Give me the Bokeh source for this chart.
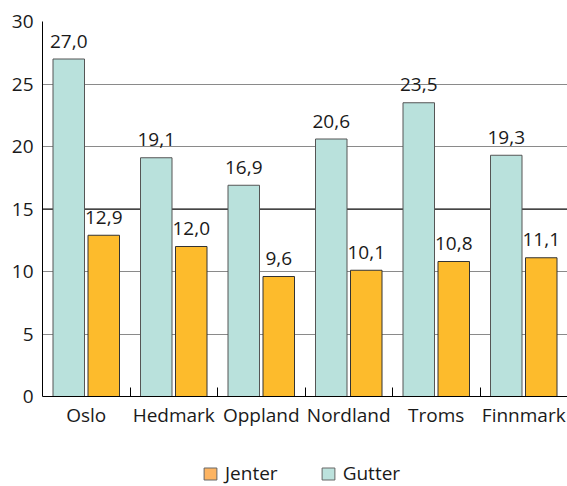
from bokeh.plotting import figure
from bokeh.models import ColumnDataSource, Range1d, FixedTicker, Legend, LegendItem, Span
from bokeh.layouts import column
from bokeh.embed import file_html
from bokeh.resources import INLINE
from bokeh.core.properties import value

# ---- data ----
regions = ["Oslo", "Hedmark", "Oppland", "Nordland", "Troms", "Finnmark"]
gutter = [27.0, 19.1, 16.9, 20.6, 23.5, 19.3]
jenter = [12.9, 12.0, 9.6, 10.1, 10.8, 11.1]
series = ["Jenter", "Gutter"]
y_ticks = [0, 5, 10, 15, 20, 25, 30]

FONT = "Open Sans"
FS = "19px"
TXT = "#1a1a1a"

idx = list(range(len(regions)))
def fmt(v):
    return f"{v:.1f}".replace(".", ",")

src = ColumnDataSource(dict(
    xg=[i + 0.30 for i in idx],
    xj=[i + 0.70 for i in idx],
    gutter=gutter,
    jenter=jenter,
    lg=[fmt(v) for v in gutter],
    lj=[fmt(v) for v in jenter],
))

p = figure(width=567, height=440, output_backend="svg", toolbar_location=None,
           x_range=Range1d(0, len(regions)), y_range=Range1d(0, 30),
           min_border_left=42, min_border_right=0, min_border_top=21, min_border_bottom=44)
p.outline_line_color = None
p.background_fill_color = "white"
p.border_fill_color = "white"

p.xgrid.visible = False
p.ygrid.grid_line_color = "#8a8a8a"
p.ygrid.grid_line_width = 1
p.add_layout(Span(location=y_ticks[3], dimension="width", line_color="black", line_width=1,
                  level="underlay"))

GUT = "#B9E1DC"
JEN = "#FDBB2C"
p.vbar(x="xg", top="gutter", width=0.36, source=src, fill_color=GUT, line_color="#555555", line_width=1)
p.vbar(x="xj", top="jenter", width=0.36, source=src, fill_color=JEN, line_color="#333333", line_width=1)

for xcol, ycol, tcol in (("xg", "gutter", "lg"), ("xj", "jenter", "lj")):
    p.text(x=xcol, y=ycol, text=tcol, source=src, text_align="center", text_baseline="alphabetic",
           y_offset=-18, text_font=value(FONT), text_font_size=FS, text_color=TXT)

# axes
xa = p.xaxis[0]
xa.ticker = FixedTicker(ticks=[i + 0.5 for i in idx], minor_ticks=[i for i in idx[1:]])
xa.major_label_overrides = {i + 0.5: r for i, r in zip(idx, regions)}
xa.major_tick_in = 0
xa.major_tick_out = 0
xa.minor_tick_in = 9
xa.minor_tick_out = 0
xa.minor_tick_line_color = "black"
xa.axis_line_color = "black"
xa.major_label_standoff = 5
xa.major_label_text_font = FONT
xa.major_label_text_font_size = FS
xa.major_label_text_color = TXT

ya = p.yaxis[0]
ya.ticker = FixedTicker(ticks=y_ticks)
ya.major_tick_in = 0
ya.major_tick_out = 0
ya.minor_tick_line_color = None
ya.axis_line_color = "black"
ya.major_label_standoff = 9
ya.major_label_text_font = FONT
ya.major_label_text_font_size = FS
ya.major_label_text_color = TXT

# legend strip
lf = figure(width=567, height=46, output_backend="svg", toolbar_location=None,
            x_range=Range1d(0, 1), y_range=Range1d(0, 1),
            x_axis_location=None, y_axis_location=None,
            min_border_left=0, min_border_right=0, min_border_top=0, min_border_bottom=0)
lf.grid.visible = False
lf.outline_line_color = None
nan = float("nan")
rj = lf.vbar(x=[nan], top=[nan], width=0.1, fill_color="#FDB462", line_color="#666666")
rg = lf.vbar(x=[nan], top=[nan], width=0.1, fill_color="#BCE2DD", line_color="#666666")
legend = Legend(items=[LegendItem(label=series[0], renderers=[rj]),
                       LegendItem(label=series[1], renderers=[rg])],
                orientation="horizontal", location=(160, 0),
                glyph_width=16, glyph_height=15, label_standoff=7, spacing=42,
                padding=0, margin=0, border_line_color=None, background_fill_alpha=0,
                label_text_font=FONT, label_text_font_size=FS, label_text_color=TXT)
lf.add_layout(legend, "center")

open("out.html", "w").write(file_html(column(p, lf), INLINE))
